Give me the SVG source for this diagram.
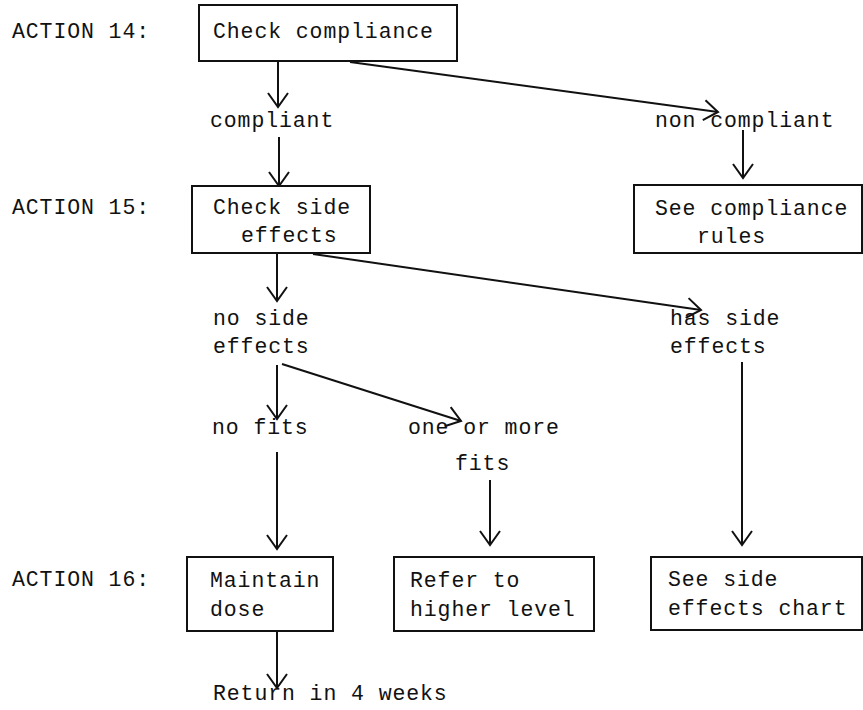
<svg xmlns="http://www.w3.org/2000/svg" width="863" height="710" viewBox="0 0 863 710">
<style>
text { font-family: "Liberation Mono", "Courier New", monospace; font-size: 21.5px; letter-spacing: 0.9px; fill: #111; }
.box { fill: #fff; stroke: #111; stroke-width: 2; }
.ln { stroke: #111; stroke-width: 2; fill: none; marker-end: url(#ah); }
</style>
<defs>
<marker id="ah" markerUnits="userSpaceOnUse" viewBox="-16 -12 18 24" refX="0" refY="0" markerWidth="18" markerHeight="24" orient="auto">
<path d="M-14,-10 L0,0 L-14,10" fill="none" stroke="#111" stroke-width="2"/>
</marker>
</defs>
<rect width="863" height="710" fill="#fff"/>
<g id="row-labels">
<text x="12" y="38">ACTION 14:</text>
<text x="12" y="214">ACTION 15:</text>
<text x="12" y="586">ACTION 16:</text>
</g>
<g id="connectors">
<line class="ln" x1="278" y1="61" x2="278" y2="107"/>
<line class="ln" x1="350" y1="62" x2="718" y2="112"/>
<line class="ln" x1="279" y1="137" x2="279" y2="186"/>
<line class="ln" x1="743" y1="130" x2="743" y2="178"/>
<line class="ln" x1="277" y1="253" x2="277" y2="301"/>
<line class="ln" x1="313" y1="254" x2="701" y2="310"/>
<line class="ln" x1="277" y1="365" x2="277" y2="419"/>
<line class="ln" x1="282" y1="364" x2="461" y2="421"/>
<line class="ln" x1="742" y1="362" x2="742" y2="545"/>
<line class="ln" x1="277" y1="452" x2="277" y2="549"/>
<line class="ln" x1="490" y1="480" x2="490" y2="545"/>
<line class="ln" x1="277" y1="631" x2="277" y2="688"/>
</g>
<g id="edge-labels">
<text x="210" y="127">compliant</text>
<text x="655" y="127">non compliant</text>
<text x="213" y="325">no side</text>
<text x="213" y="353">effects</text>
<text x="670" y="325">has side</text>
<text x="670" y="353">effects</text>
<text x="212" y="434">no fits</text>
<text x="408" y="434">one or more</text>
<text x="455" y="470">fits</text>
<text x="213" y="700">Return in 4 weeks</text>
</g>
<g id="check-compliance">
<rect class="box" x="199" y="5" width="258" height="56"/>
<text x="213" y="38">Check compliance</text>
</g>
<g id="check-side-effects">
<rect class="box" x="192" y="186" width="178" height="67"/>
<text x="213" y="214">Check side</text>
<text x="241" y="242">effects</text>
</g>
<g id="see-compliance-rules">
<rect class="box" x="634" y="185" width="228" height="68"/>
<text x="655" y="215">See compliance</text>
<text x="697" y="243">rules</text>
</g>
<g id="maintain-dose">
<rect class="box" x="187" y="557" width="146" height="74"/>
<text x="210" y="587">Maintain</text>
<text x="210" y="616">dose</text>
</g>
<g id="refer-higher">
<rect class="box" x="394" y="557" width="200" height="74"/>
<text x="410" y="587">Refer to</text>
<text x="410" y="616">higher level</text>
</g>
<g id="see-side-effects-chart">
<rect class="box" x="651" y="557" width="211" height="73"/>
<text x="668" y="586">See side</text>
<text x="668" y="615">effects chart</text>
</g>
</svg>
